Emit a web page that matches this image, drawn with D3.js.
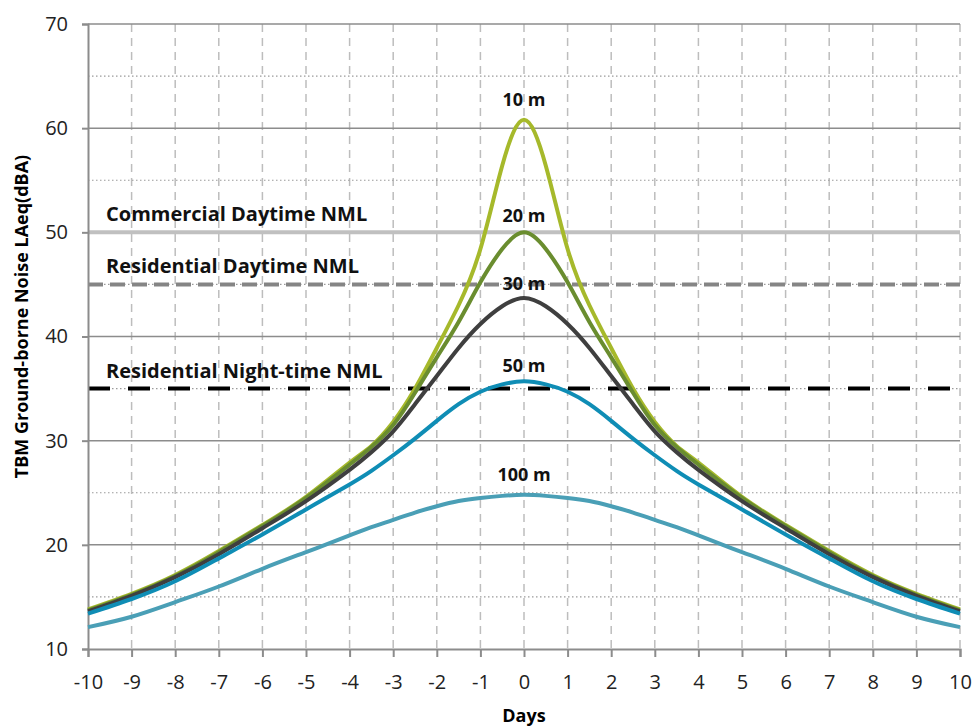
<!DOCTYPE html>
<html>
<head>
<meta charset="utf-8">
<script src="https://cdn.jsdelivr.net/npm/d3@7"></script>
<style>
  body { margin: 0; background: #fff; }
  text { font-family: "Open Sans", sans-serif; }
</style>
</head>
<body>
<svg id="chart" width="974" height="727"></svg>
<script>
// days along the drive
var days = [-10, -9, -8, -7, -6, -5, -4, -3.5, -3, -2.5, -2, -1.5, -1, -0.5, 0,
            0.5, 1, 1.5, 2, 2.5, 3, 3.5, 4, 5, 6, 7, 8, 9, 10];

// noise level (dBA) at each receiver offset
var noise10m  = [13.8, 15.3, 17.1, 19.4, 21.9, 24.6, 27.9, 29.5, 31.8, 35.0, 38.9, 43.0, 48.4, 56.4, 60.8,
                 56.4, 48.4, 43.0, 38.9, 35.0, 31.8, 29.5, 27.9, 24.6, 21.9, 19.4, 17.1, 15.3, 13.8];
var noise20m  = [13.7, 15.2, 17.0, 19.3, 21.8, 24.5, 27.7, 29.4, 31.5, 34.6, 38.0, 41.4, 45.2, 48.4, 50.0,
                 48.4, 45.2, 41.4, 38.0, 34.6, 31.5, 29.4, 27.7, 24.5, 21.8, 19.3, 17.0, 15.2, 13.7];
var noise30m  = [13.6, 15.1, 16.9, 19.1, 21.6, 24.2, 27.2, 28.9, 30.9, 33.5, 36.2, 38.9, 41.2, 42.9, 43.7,
                 42.9, 41.2, 38.9, 36.2, 33.5, 30.9, 28.9, 27.2, 24.2, 21.6, 19.1, 16.9, 15.1, 13.6];
var noise50m  = [13.4, 14.8, 16.5, 18.7, 21.0, 23.4, 25.8, 27.1, 28.6, 30.2, 31.9, 33.5, 34.7, 35.4, 35.7,
                 35.4, 34.7, 33.5, 31.9, 30.2, 28.6, 27.1, 25.8, 23.4, 21.0, 18.7, 16.5, 14.8, 13.4];
var noise100m = [12.1, 13.1, 14.5, 16.0, 17.7, 19.3, 20.9, 21.7, 22.4, 23.1, 23.7, 24.2, 24.5, 24.7, 24.8,
                 24.7, 24.5, 24.2, 23.7, 23.1, 22.4, 21.7, 20.9, 19.3, 17.7, 16.0, 14.5, 13.1, 12.1];

var seriesNames  = ["10 m", "20 m", "30 m", "50 m", "100 m"];
var seriesValues = [noise10m, noise20m, noise30m, noise50m, noise100m];
var seriesColors = ["#a6b92b", "#6a8d2f", "#3f3f3f", "#0f8db5", "#4a9fb6"];
var labelGap     = [14, 10, 8, 9, 14];

// noise management levels
var nmlNames  = ["Commercial Daytime NML", "Residential Daytime NML", "Residential Night-time NML"];
var nmlValues = [50, 45, 35];

var xTicks = d3.range(-10, 11, 1);
var yTicks = [10, 20, 30, 40, 50, 60, 70];
var yMinor = [15, 25, 35, 45, 55, 65];

var svg = d3.select("#chart"),
    margin = {top: 24, right: 14, bottom: 78, left: 88},
    width = +svg.attr("width") - margin.left - margin.right,
    height = +svg.attr("height") - margin.top - margin.bottom,
    g = svg.append("g").attr("transform", "translate(" + margin.left + "," + margin.top + ")");

var x = d3.scaleLinear().domain([-10, 10]).range([0, width]);
var y = d3.scaleLinear().domain([10, 70]).range([height, 0]);

// vertical dashed grid
g.append("g").selectAll("line")
  .data(xTicks.slice(1))
  .enter().append("line")
    .attr("x1", x).attr("x2", x)
    .attr("y1", 0).attr("y2", height)
    .attr("stroke", "#bdbdbd")
    .attr("stroke-width", 1.5)
    .attr("stroke-dasharray", "8,6");

// minor dotted grid
g.append("g").selectAll("line")
  .data(yMinor)
  .enter().append("line")
    .attr("x1", 0).attr("x2", width)
    .attr("y1", y).attr("y2", y)
    .attr("stroke", "#9a9a9a")
    .attr("stroke-width", 1.2)
    .attr("stroke-dasharray", "1.5,2.5");

// major solid grid
g.append("g").selectAll("line")
  .data(yTicks.slice(1))
  .enter().append("line")
    .attr("x1", 0).attr("x2", width)
    .attr("y1", y).attr("y2", y)
    .attr("stroke", "#8c8c8c")
    .attr("stroke-width", 1.5);

// NML lines
var nmlStyle = [
  {stroke: "#c0c0c0", dash: null},
  {stroke: "#858585", dash: "15,7"},
  {stroke: "#000000", dash: "22,18"}
];
g.append("g").selectAll("line")
  .data(nmlValues)
  .enter().append("line")
    .attr("x1", 0).attr("x2", width)
    .attr("y1", y).attr("y2", y)
    .attr("stroke", function(d, i) { return nmlStyle[i].stroke; })
    .attr("stroke-width", 4)
    .attr("stroke-dasharray", function(d, i) { return nmlStyle[i].dash; });

g.append("g").selectAll("text")
  .data(nmlValues)
  .enter().append("text")
    .attr("x", 18)
    .attr("y", function(d) { return y(d) - 11; })
    .attr("font-size", 20)
    .attr("font-weight", "bold")
    .attr("fill", "#111")
    .text(function(d, i) { return nmlNames[i]; });

// axes
var xAxis = g.append("g")
    .attr("transform", "translate(0," + height + ")")
    .call(d3.axisBottom(x).tickValues(xTicks).tickSize(8).tickPadding(18).tickFormat(function(d) { return String(d); }));
var yAxis = g.append("g")
    .call(d3.axisLeft(y).tickValues(yTicks).tickSize(6).tickPadding(14));

[xAxis, yAxis].forEach(function(a) {
  a.select(".domain").attr("stroke", "#8c8c8c").attr("stroke-width", 2);
  a.selectAll(".tick line").attr("stroke", "#8c8c8c").attr("stroke-width", 2);
  a.selectAll(".tick text")
    .attr("font-size", 20)
    .attr("fill", "#222")
    .style("font-family", "'Open Sans', sans-serif");
});

// curves
var line = d3.line()
    .x(function(d) { return x(d[0]); })
    .y(function(d) { return y(d[1]); })
    .curve(d3.curveNatural);

g.append("g").selectAll("path")
  .data(seriesValues)
  .enter().append("path")
    .attr("fill", "none")
    .attr("stroke", function(d, i) { return seriesColors[i]; })
    .attr("stroke-width", 4)
    .attr("d", function(vals) { return line(days.map(function(dd, k) { return [dd, vals[k]]; })); });

// peak labels
g.append("g").selectAll("text")
  .data(seriesValues)
  .enter().append("text")
    .attr("x", x(0))
    .attr("y", function(d, i) { return y(d3.max(d)) - labelGap[i]; })
    .attr("text-anchor", "middle")
    .attr("font-size", 18)
    .attr("font-weight", "bold")
    .attr("fill", "#111")
    .text(function(d, i) { return seriesNames[i]; });

// axis titles
svg.append("text")
  .attr("x", margin.left + width / 2)
  .attr("y", 722)
  .attr("text-anchor", "middle")
  .attr("font-size", 18)
  .attr("font-weight", "bold")
  .text("Days");

svg.append("text")
  .attr("transform", "translate(28," + (margin.top + height / 2 - 20) + ")rotate(-90)")
  .attr("text-anchor", "middle")
  .attr("font-size", 18)
  .attr("font-weight", "bold")
  .text("TBM Ground-borne Noise LAeq(dBA)");
</script>
</body>
</html>
